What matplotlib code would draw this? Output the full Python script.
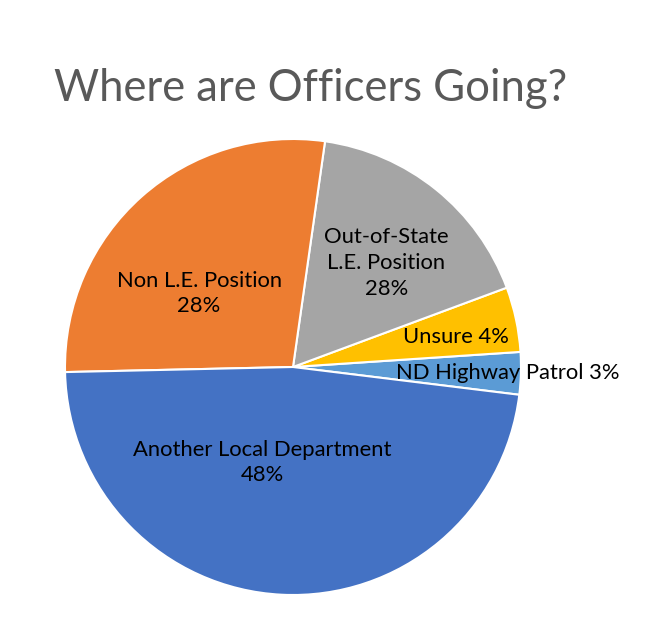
import matplotlib.pyplot as plt

labels = ['ND Highway Patrol 3%', 'Unsure 4%', 'Out-of-State\nL.E. Position\n28%',
          'Non L.E. Position\n28%', 'Another Local Department\n48%']
values = [3.0, 4.6, 17.1, 27.6, 47.7]
colors = ['#5B9BD5', '#FFC000', '#A5A5A5', '#ED7D31', '#4472C4']
label_pos = [(0.94, -0.025), (0.715, 0.132), (0.41, 0.456), (-0.412, 0.322), (-0.136, -0.418)]

plt.rcParams['font.family'] = ['Lato', 'DejaVu Sans']

fig = plt.figure(figsize=(6.45, 6.17), dpi=100)
ax = fig.add_axes([65 / 645, 22 / 617, 456 / 645, 456 / 617])
ax.pie(values, colors=colors, startangle=-7, counterclock=True,
       wedgeprops=dict(edgecolor='white', linewidth=1.5))
ax.set_xlim(-1, 1)
ax.set_ylim(-1, 1)
ax.set_aspect('auto')

for lab, (x, y) in zip(labels, label_pos):
    ax.text(x, y, lab, ha='center', va='center', fontsize=15.8, color='black',
            linespacing=1.35, clip_on=False)

fig.text(311 / 645, 1 - 101 / 617, 'Where are Officers Going?', ha='center', va='baseline',
         fontsize=31.4, color='#595959')

fig.savefig('out.png', dpi=100)
